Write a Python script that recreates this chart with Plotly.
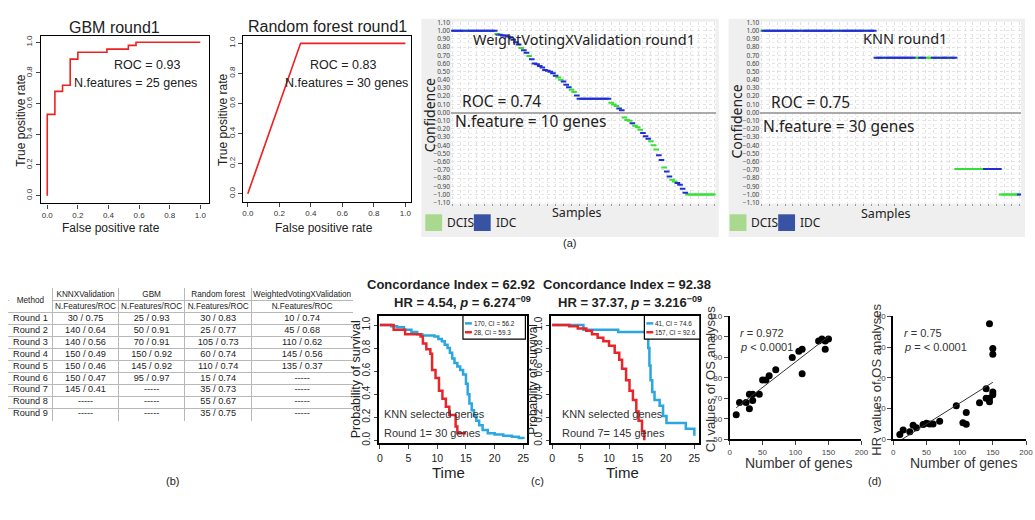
"""
Figura composta: ROC, confiança por amostra, tabela, Kaplan-Meier e correlações.
"""

import numpy as np
import plotly.graph_objects as go

W, H = 1035, 520

# ---------------- dados ----------------
# (a) curvas ROC
gbm_fpr = [0.0, 0.0, 0.05, 0.10, 0.15, 0.20, 0.39, 0.53, 0.58, 1.0]
gbm_tpr = [0.0, 0.53, 0.68, 0.72, 0.89, 0.935, 0.955, 0.98, 1.0, 1.0]
rf_fpr = [0.0, 0.335, 1.0]
rf_tpr = [0.0, 1.0, 1.0]

# (a) confiança por amostra (ordenada) - WeightVotingXValidation
wv_conf = [1.00, 1.00, 1.00, 1.00, 1.00, 1.00, 1.00, 1.00, 1.00, 1.00, 1.00, 1.00, 1.00, 1.00, 1.00, 1.00, 1.00,
           0.96, 0.95, 0.94, 0.94, 0.93, 0.92, 0.89, 0.86, 0.83, 0.79, 0.76, 0.73, 0.69, 0.65, 0.60, 0.59,
           0.57, 0.55, 0.52, 0.51, 0.50, 0.48, 0.45, 0.43, 0.40, 0.38, 0.34, 0.31, 0.28, 0.25, 0.21,
           0.17, 0.17, 0.17, 0.17, 0.17, 0.17, 0.17, 0.17, 0.17, 0.17, 0.17, 0.17,
           0.12, 0.10, 0.08, 0.05, 0.03, -0.06, -0.09, -0.10, -0.13, -0.16, -0.18, -0.21, -0.25, -0.29,
           -0.32, -0.35, -0.40, -0.45, -0.52, -0.58, -0.67, -0.72, -0.78, -0.82, -0.84, -0.86, -0.88,
           -0.93, -0.98,
           -1.00, -1.00, -1.00, -1.00, -1.00, -1.00, -1.00, -1.00, -1.00, -1.00, -1.00]
wv_class = ("IIIIIDIIIIIIIIIII"
            "DIIIIIIIIDIIDIIIIIIIIIIDDIIIDDI"
            "IIIIIIIIIIII"
            "DDDIIDDDIDDDIIIDDDIIDIIDDIIII"
            "DDDDDDDDDDD")

# (a) confiança por amostra - KNN
knn_conf = [1.00, 1.00, 1.00, 1.00, 1.00, 1.00, 1.00, 1.00, 1.00, 1.00, 1.00, 1.00, 1.00, 1.00, 1.00,
            1.00, 1.00, 1.00, 1.00, 1.00, 1.00, 1.00, 1.00, 1.00, 1.00, 1.00, 1.00, 1.00, 1.00, 1.00,
            1.00, 1.00, 1.00, 1.00, 1.00, 1.00, 1.00, 1.00, 1.00, 1.00, 1.00, 1.00, 1.00, 1.00,
            0.67, 0.67, 0.67, 0.67, 0.67, 0.67, 0.67, 0.67, 0.67, 0.67, 0.67, 0.67, 0.67, 0.67, 0.67,
            0.67, 0.67, 0.67, 0.67, 0.67, 0.67, 0.67, 0.67, 0.67, 0.67, 0.67, 0.67, 0.67, 0.67, 0.67, 0.67,
            -0.69, -0.69, -0.69, -0.69, -0.69, -0.69, -0.69, -0.69, -0.69, -0.69, -0.69, -0.69, -0.69,
            -0.69, -0.69, -0.69, -0.69,
            -1.00, -1.00, -1.00, -1.00, -1.00, -1.00, -1.00, -1.00]
knn_class = ("DIIIIIIIIIIIIIIDIIIIIIIIIIIIDIDIIIIIIIIIDIII"
             "IIIDIIIIIIIIIIIDDIIDDDIIDIIIDII"
             "DDDDDDDDDDDIDIIII"
             "DDDDDDDI")

# (b) tabela
tab_head1 = ["Method", "KNNXValidation", "GBM", "Random forest", "WeightedVotingXValidation"]
tab_head2 = ["", "N.Features/ROC", "N.Features/ROC", "N.Features/ROC", "N.Features/ROC"]
tab_round = ["Round 1", "Round 2", "Round 3", "Round 4", "Round 5", "Round 6", "Round 7", "Round 8", "Round 9"]
tab_knn = ["30 / 0.75", "140 / 0.64", "140 / 0.56", "150 / 0.49", "150 / 0.46", "150 / 0.47", "145 / 0.41",
           "-----", "-----"]
tab_gbm = ["25 / 0.93", "50 / 0.91", "70 / 0.91", "150 / 0.92", "145 / 0.92", "95 / 0.97", "-----",
           "-----", "-----"]
tab_rf = ["30 / 0.83", "25 / 0.77", "105 / 0.73", "60 / 0.74", "110 / 0.74", "15 / 0.74", "35 / 0.73",
          "55 / 0.67", "35 / 0.75"]
tab_wv = ["10 / 0.74", "45 / 0.68", "110 / 0.62", "145 / 0.56", "135 / 0.37", "-----", "-----",
          "-----", "-----"]
tab_colw = [44, 67, 66, 68, 101]

# (c) Kaplan-Meier
km1_blue_t = [0, 2.0, 3.0, 4.2, 5.5, 6.5, 7.4, 9.5, 10.2, 10.8, 11.3, 11.8, 12.2, 12.6, 13.0, 13.5, 14.0,
              14.5, 15.0, 15.3, 15.6, 16.0, 16.4, 16.8, 17.3, 17.9, 18.8, 20.0, 21.5, 23.0, 24.2, 25.0]
km1_blue_s = [1.0, 0.99, 0.98, 0.96, 0.94, 0.92, 0.91, 0.90, 0.88, 0.86, 0.83, 0.80, 0.76, 0.71, 0.67, 0.64,
              0.61, 0.57, 0.49, 0.40, 0.32, 0.26, 0.21, 0.17, 0.13, 0.09, 0.06, 0.05, 0.04, 0.03, 0.02, 0.01]
km1_red_t = [0, 2.4, 4.4, 7.1, 7.5, 8.1, 8.8, 9.1, 9.7, 10.3, 10.9, 11.5, 12.1, 13.2, 13.5, 15.0]
km1_red_s = [1.0, 0.96, 0.92, 0.90, 0.84, 0.79, 0.75, 0.61, 0.54, 0.43, 0.36, 0.29, 0.22, 0.12, 0.06, 0.06]
km2_blue_t = [0, 5.5, 11.6, 16.6, 16.9, 17.1, 17.3, 17.6, 18.0, 18.9, 19.5, 20.1, 22.4, 23.5, 25.0]
km2_blue_s = [1.0, 0.96, 0.94, 0.90, 0.80, 0.65, 0.52, 0.42, 0.35, 0.30, 0.21, 0.15, 0.15, 0.10, 0.04]
km2_red_t = [0, 3.0, 4.5, 6.0, 7.0, 8.0, 9.0, 10.0, 11.0, 11.8, 12.3, 13.0, 13.6, 14.2, 14.8, 15.2, 15.8, 16.2]
km2_red_s = [1.0, 0.99, 0.97, 0.95, 0.92, 0.89, 0.86, 0.82, 0.76, 0.70, 0.62, 0.52, 0.43, 0.35, 0.25, 0.17,
             0.08, 0.0]
km1_legend = ["170, CI = 56.2", "28, CI = 59.3"]
km2_legend = ["41, CI = 74.6", "157, CI = 92.6"]

# (d) correlações
ci_genes = [10, 15, 25, 30, 30, 35, 35, 45, 50, 55, 60, 70, 95, 105, 110, 110, 135, 140, 145, 145, 150]
ci_vals = [62, 68, 68, 72, 65, 72, 69, 72, 79, 79, 81, 84, 90, 93, 94, 82, 98, 99, 98, 94, 99]
hr_genes = [10, 15, 25, 30, 35, 45, 50, 55, 60, 70, 95, 105, 110, 110, 130, 140, 140, 145, 145, 145,
            150, 150, 150, 150]
hr_vals = [1.6, 3.0, 2.5, 4.6, 3.8, 4.8, 5.2, 5.0, 5.0, 5.9, 10.9, 5.4, 4.9, 8.7, 11.9, 16.5, 13.4, 13.4,
           12.2, 37.6, 29.6, 27.7, 15.4, 14.5]

# ---------------- helpers ----------------
ARIAL = "Liberation Sans, Arial, sans-serif"
NARROW = "Liberation Sans Narrow, Arial Narrow, Liberation Sans, sans-serif"
SEGOE = "Noto Sans, Open Sans, sans-serif"
BLUE_M, GREEN_M = "#1f2fd0", "#33e033"
KM_BLUE, KM_RED = "#2aa6e0", "#e8262a"


def xd(a, b):
    return [a / W, b / W]


def yd(top, bottom):
    return [1 - bottom / H, 1 - top / H]


annots = []
shapes = []


def txt(x, y, s, size=12, family=ARIAL, xanchor="center", angle=0, color="#222"):
    annots.append(dict(x=x / W, y=1 - y / H, xref="paper", yref="paper", text=s, showarrow=False,
                       xanchor=xanchor, yanchor="middle", textangle=angle,
                       font=dict(size=size, family=family, color=color)))


def rect(x0, y0, x1, y1, fill, line=None, lw=1):
    shapes.append(dict(type="rect", xref="paper", yref="paper", x0=x0 / W, x1=x1 / W,
                       y0=1 - y1 / H, y1=1 - y0 / H, fillcolor=fill, layer="below",
                       line=dict(width=0 if line is None else lw, color=line or fill)))


def hline(x0, x1, y, color, width):
    shapes.append(dict(type="line", xref="paper", yref="paper", x0=x0 / W, x1=x1 / W,
                       y0=1 - y / H, y1=1 - y / H, line=dict(color=color, width=width), layer="above"))


fig = go.Figure()

# ROC
fig.add_trace(go.Scatter(x=gbm_fpr, y=gbm_tpr, mode="lines", line=dict(color="#ee2020", width=1.6, shape="hv"),
                         xaxis="x", yaxis="y"))
fig.add_trace(go.Scatter(x=rf_fpr, y=rf_tpr, mode="lines", line=dict(color="#ee2020", width=1.6),
                         xaxis="x2", yaxis="y2"))

# confiança
for conf, cls, ax in [(wv_conf, wv_class, "3"), (knn_conf, knn_class, "4")]:
    idx = np.arange(len(conf))
    conf = np.array(conf)
    lab = np.array(list(cls))
    for code, col in [("D", GREEN_M), ("I", BLUE_M)]:
        m = lab == code
        fig.add_trace(go.Scatter(x=idx[m], y=conf[m], mode="markers", xaxis="x" + ax, yaxis="y" + ax,
                                 marker=dict(symbol="line-ew", size=4, line=dict(width=2, color=col))))

# tabela: texto nas células por meio de eixos próprios
col_edges = np.concatenate([[0], np.cumsum(tab_colw)])
col_mid = (col_edges[:-1] + col_edges[1:]) / 2
head_x, head_y, head_t = [], [], []
for j, (h1, h2) in enumerate(zip(tab_head1, tab_head2)):
    if j == 0:
        head_x.append(col_mid[j])
        head_y.append(1.0)
        head_t.append(h1)
        continue
    head_x += [col_mid[j], col_mid[j]]
    head_y += [0.5, 1.5]
    head_t += [h1, h2]
cell_x, cell_y, cell_t = [], [], []
for j, col in enumerate([tab_round, tab_knn, tab_gbm, tab_rf, tab_wv]):
    for i, v in enumerate(col):
        cell_x.append(col_mid[j])
        cell_y.append(i + 2.5)
        cell_t.append(v)
fig.add_trace(go.Scatter(x=head_x, y=head_y, text=head_t, mode="text", xaxis="x9", yaxis="y9",
                         textfont=dict(size=8.2, family=NARROW, color="#222")))
fig.add_trace(go.Scatter(x=cell_x, y=cell_y, text=cell_t, mode="text", xaxis="x9", yaxis="y9",
                         textfont=dict(size=9.2, family=NARROW, color="#222")))
n_rows = len(tab_round) + 2

# Kaplan-Meier
for t, s, c, ax in [(km1_blue_t, km1_blue_s, KM_BLUE, "5"), (km1_red_t, km1_red_s, KM_RED, "5"),
                    (km2_blue_t, km2_blue_s, KM_BLUE, "6"), (km2_red_t, km2_red_s, KM_RED, "6")]:
    fig.add_trace(go.Scatter(x=t, y=s, mode="lines", line=dict(color=c, width=2.5, shape="hv"),
                             xaxis="x" + ax, yaxis="y" + ax))

# correlações
for gx, gy, ax in [(ci_genes, ci_vals, "7"), (hr_genes, hr_vals, "8")]:
    fig.add_trace(go.Scatter(x=gx, y=gy, mode="markers", marker=dict(color="black", size=7),
                             xaxis="x" + ax, yaxis="y" + ax))
    k, b = np.polyfit(gx, gy, 1)
    lx = np.array([min(gx), max(gx)])
    fig.add_trace(go.Scatter(x=lx, y=k * lx + b, mode="lines", line=dict(color="#333", width=1),
                             xaxis="x" + ax, yaxis="y" + ax))

# ---------------- eixos ----------------
roc_ax = dict(showline=True, linecolor="black", linewidth=1.2, mirror=True, ticks="outside", ticklen=4,
              showgrid=False, zeroline=False, tickfont=dict(size=8, family=ARIAL, color="#333"),
              dtick=0.2, tickformat=".1f")
conf_x = dict(showline=False, showgrid=True, gridcolor="#e2e2e2", griddash="dot", dtick=3, showticklabels=False,
              ticks="outside", ticklen=2, tickcolor="#999", zeroline=False)
conf_y = dict(showgrid=True, gridcolor="#e2e2e2", griddash="dot", dtick=0.1, tick0=0, tickformat=".2f",
              range=[-1.11, 1.11], zeroline=True, zerolinecolor="#aaaaaa", zerolinewidth=1.5,
              tickfont=dict(size=6.5, family=SEGOE, color="#444"), ticks="", showline=False,
              minor=dict(showgrid=True, gridcolor="#efefef", griddash="dot", dtick=0.05))
km_x = dict(showline=True, linecolor="black", linewidth=1.5, mirror=True, ticks="outside", ticklen=4,
            showgrid=False, zeroline=False, dtick=5, tickfont=dict(size=10.5, family=ARIAL, color="#222"))
km_y = dict(showline=True, linecolor="black", linewidth=1.5, mirror=True, ticks="outside", ticklen=3,
            showgrid=False, zeroline=False, dtick=0.2, tickformat=".1f", tickangle=-90,
            range=[-0.026, 1.083], tickfont=dict(size=10, family=ARIAL, color="#222"))
sc_x = dict(showline=True, linecolor="black", linewidth=1.5, ticks="outside", ticklen=4, showgrid=False,
            zeroline=False, range=[0, 200], dtick=50, tickfont=dict(size=8, family=NARROW, color="#444"))
sc_y = dict(showline=True, linecolor="black", linewidth=1.5, ticks="outside", ticklen=4, showgrid=False,
            zeroline=False, tickfont=dict(size=8, family=NARROW, color="#444"))
tab_grid = dict(showgrid=True, gridcolor="#b8b8b8", gridwidth=1, showticklabels=False, ticks="",
                zeroline=False, showline=False)

fig.update_layout(
    xaxis=dict(roc_ax, domain=xd(39, 209), range=[-0.043, 1.058], anchor="y"),
    yaxis=dict(roc_ax, domain=yd(33, 203), range=[-0.051, 1.038], anchor="x", tickangle=-90),
    xaxis2=dict(roc_ax, domain=xd(243, 413), range=[-0.031, 1.038], anchor="y2"),
    yaxis2=dict(roc_ax, domain=yd(33, 201), range=[-0.052, 1.046], anchor="x2", tickangle=-90),
    xaxis3=dict(conf_x, domain=xd(453, 720), range=[-0.5, len(wv_conf) - 0.5], anchor="y3"),
    yaxis3=dict(conf_y, domain=yd(18, 203), anchor="x3"),
    xaxis4=dict(conf_x, domain=xd(765, 1028), range=[-0.5, len(knn_conf) - 0.5], anchor="y4"),
    yaxis4=dict(conf_y, domain=yd(18, 203), anchor="x4"),
    xaxis5=dict(km_x, domain=xd(380, 530), range=[-0.2, 25.7], anchor="y5"),
    yaxis5=dict(km_y, domain=yd(317, 447), anchor="x5"),
    xaxis6=dict(km_x, domain=xd(554, 703), range=[-0.17, 25.8], anchor="y6"),
    yaxis6=dict(km_y, domain=yd(317, 447), anchor="x6"),
    xaxis7=dict(sc_x, domain=xd(734, 867), anchor="y7"),
    yaxis7=dict(sc_y, domain=yd(318, 443), range=[50, 110], dtick=10, anchor="x7"),
    xaxis8=dict(sc_x, domain=xd(899, 1033), anchor="y8"),
    yaxis8=dict(sc_y, domain=yd(318, 443), range=[0, 40], dtick=10, anchor="x8"),
    xaxis9=dict(tab_grid, domain=xd(6, 354), range=[-0.6, col_edges[-1] + 0.6], tickvals=col_edges,
                anchor="y9"),
    yaxis9=dict(tab_grid, domain=yd(289, 424), range=[n_rows + 0.05, -0.05], tickvals=list(range(n_rows + 1)),
                anchor="x9"),
    showlegend=False,
)

# célula "Method" ocupa as duas linhas do cabeçalho
shapes.append(dict(type="rect", xref="x9", yref="y9", x0=0.5, x1=tab_colw[0] - 0.5, y0=0.8, y1=1.2,
                   fillcolor="white", line=dict(width=0), layer="between"))

# fundos cinzentos dos painéis de confiança
rect(423, 15, 723, 237, "#efefef")
rect(453, 18, 720, 203, "white")
rect(733, 15, 1032, 237, "#efefef")
rect(765, 18, 1028, 203, "white")
# legendas DCIS / IDC
for x0 in (427, 734):
    rect(x0, 214, x0 + 17, 231, "#a9d88f")
    rect(x0 + 49, 214, x0 + 66, 231, "#3953a4")
    txt(x0 + 20, 222, "DCIS", 12, SEGOE, "left")
    txt(x0 + 69, 222, "IDC", 12, SEGOE, "left")

# legendas Kaplan-Meier
for (bx0, bx1), labels in [((465, 528), km1_legend), ((648, 704), km2_legend)]:
    shapes.append(dict(type="rect", xref="paper", yref="paper", x0=bx0 / W, x1=bx1 / W,
                       y0=1 - 341 / H, y1=1 - 317 / H, fillcolor="white", layer="above",
                       line=dict(color="black", width=1.2)))
    for k, (lab, col) in enumerate(zip(labels, [KM_BLUE, KM_RED])):
        yy = 325 + 9 * k
        hline(bx0 + 2, bx0 + 9, yy, col, 2.5)
        txt(bx0 + 9, yy, lab, 6.4, NARROW, "left")

# textos (a)
txt(113, 24, "GBM round1", 16)
txt(328, 23, "Random forest round1", 16)
txt(146, 62, "ROC = 0.93", 12.5)
txt(135, 80, "N.features = 25 genes", 12.5)
txt(344, 62, "ROC = 0.83", 12.5)
txt(348, 80, "N.features = 30 genes", 12.5)
txt(110, 228, "False positive rate", 12)
txt(325, 228, "False positive rate", 12)
txt(19, 118, "True positive rate", 12, angle=-90)
txt(223, 118, "True positive rate", 12, angle=-90)

txt(587, 36, "WeightVotingXValidation round1", 14.5, SEGOE)
txt(462, 99, "ROC = 0.74", 15.5, SEGOE, "left")
txt(455, 119, "N.feature = 10 genes", 15.5, SEGOE, "left")
txt(431, 113, "Confidence", 14, SEGOE, angle=-90)
txt(580, 212, "Samples", 12.5, SEGOE)
txt(911, 35, "KNN round1", 14.5, SEGOE)
txt(774, 100, "ROC = 0.75", 15.5, SEGOE, "left")
txt(766, 124, "N.feature = 30 genes", 15.5, SEGOE, "left")
txt(741, 120, "Confidence", 14, SEGOE, angle=-90)
txt(892, 213, "Samples", 12.5, SEGOE)
txt(572, 243, "(a)", 11)

# (b)
txt(172, 485, "(b)", 11)

# (c)
txt(453, 285, "<b>Concordance Index = 62.92</b>", 13)
txt(465, 303, "<b>HR = 4.54, <i>p</i> = 6.274<sup>−09</sup></b>", 13)
txt(630, 285, "<b>Concordance Index = 92.38</b>", 13)
txt(634, 303, "<b>HR = 37.37, <i>p</i> = 3.216<sup>−09</sup></b>", 13)
txt(383, 417, "KNN selected genes", 11, xanchor="left", color="#333")
txt(383, 437, "Round 1= 30 genes", 11, xanchor="left", color="#333")
txt(563, 417, "KNN selected genes", 11, xanchor="left", color="#333")
txt(563, 437, "Round 7= 145 genes", 11, xanchor="left", color="#333")
txt(358, 382, "Probability of survival", 12.5, angle=-90)
txt(536, 382, "Probablity of survival", 12, angle=-90)
txt(450, 477, "Time", 15)
txt(626, 477, "Time", 15)
txt(540, 485, "(c)", 11)

# (d)
txt(742, 335, "<i>r</i> = 0.972", 11, NARROW, "left", color="#333")
txt(742, 349, "<i>p</i> < 0.0001", 11, NARROW, "left", color="#333")
txt(908, 335, "<i>r</i> = 0.75", 11, NARROW, "left", color="#333")
txt(908, 349, "<i>p</i> = < 0.0001", 11, NARROW, "left", color="#333")
txt(715, 382, "CI values of OS analyses", 13, angle=-90, color="#333")
txt(882, 382, "HR values of OS analyses", 13, angle=-90, color="#333")
txt(803, 467, "Number of genes", 14, color="#333")
txt(970, 467, "Number of genes", 14, color="#333")
txt(880, 485, "(d)", 11)

fig.update_layout(
    width=W, height=H, margin=dict(l=0, r=0, t=0, b=0),
    paper_bgcolor="white", plot_bgcolor="white",
    annotations=annots, shapes=shapes,
    font=dict(family=ARIAL),
    hovermode=False,
)

fig.write_html("out.html", config={"displayModeBar": False},
               post_script="document.body.style.margin='0';")
